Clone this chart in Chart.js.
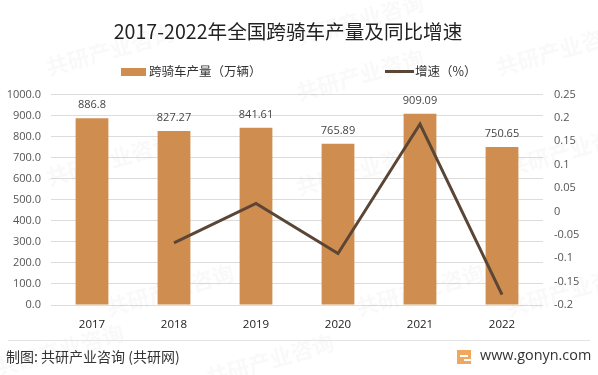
<!DOCTYPE html>
<html><head><meta charset="utf-8">
<style>html,body{margin:0;padding:0;background:#fff}#w{width:598px;height:375px;position:relative}</style>
<script src="https://cdn.jsdelivr.net/npm/chart.js@4"></script></head>
<body><div id="w"><canvas id="c" width="598" height="375"></canvas></div>
<script>
const categories=['2017','2018','2019','2020','2021','2022'];
const outputValues=[886.8,827.27,841.61,765.89,909.09,750.65];
const growthValues=[null,-0.0672,0.0173,-0.09,0.187,-0.178];
const titleText='2017-2022年全国跨骑车产量及同比增速';
const barName='跨骑车产量（万辆）';
const lineName='增速（%）';
const sourceText='制图: 共研产业咨询 (共研网)';
const siteText='www.gonyn.com';
const watermarkText='共研产业咨询';
const CJK='"Noto Sans CJK SC","Noto Sans",sans-serif';
const TICK='"Open Sans","Noto Sans",sans-serif';
const BAR='#CF8E4F',LINE='#5B4636';
const deco={id:'deco',
 afterLayout(ch){ch.titleBlock.left=-22;},
 beforeDatasetsDraw(ch){const x=ch.ctx;x.save();
  x.fillStyle='rgba(120,120,120,0.045)';x.font='bold 22px '+CJK;x.textAlign='center';x.textBaseline='middle';
  [[110,50],[360,20],[560,50],[360,75],[110,160],[360,170],[570,150],[170,290],[420,290],[60,350],[270,360],[570,290]].forEach(p=>{
    x.save();x.translate(p[0],p[1]);x.rotate(-0.28);x.fillText(watermarkText,0,0);x.restore();});
  x.restore();},
 afterDraw(ch){const x=ch.ctx;x.save();
  x.textBaseline='middle';
  x.fillStyle=BAR;x.fillRect(121,68,25,8);
  x.strokeStyle=LINE;x.lineWidth=3;x.beginPath();x.moveTo(385,71.5);x.lineTo(414,71.5);x.stroke();
  x.fillStyle='#333';x.textAlign='left';x.font='12.5px '+CJK;
  x.fillText(barName,149,71);x.fillText(lineName,415,71);
  const m=ch.getDatasetMeta(1);
  x.fillStyle='#444';x.textAlign='center';x.font='11px '+TICK;
  m.data.forEach((b,i)=>x.fillText(String(outputValues[i]),b.x,b.y-13));
  x.strokeStyle='#e4e4e4';x.lineWidth=1;x.beginPath();x.moveTo(8,340.5);x.lineTo(590,340.5);x.stroke();
  x.fillStyle='#333';x.textAlign='left';x.font='14px '+CJK;x.fillText(sourceText,6,357);
  x.fillStyle='#F0A860';x.fillRect(457,350,14,14);
  x.fillStyle='#fff';x.fillRect(460,355,8,2);x.fillRect(464,359,7,2);
  x.fillStyle='#333';x.font='14.4px "Open Sans",sans-serif';x.fillText(siteText,480,356);
  x.restore();}
};
new Chart(document.getElementById('c'),{
 data:{labels:categories,datasets:[
  {type:'line',label:lineName,data:growthValues,yAxisID:'y2',borderColor:LINE,backgroundColor:LINE,borderWidth:3,pointRadius:0,tension:0,spanGaps:false,order:1},
  {type:'bar',label:barName,data:outputValues,yAxisID:'y',backgroundColor:BAR,barPercentage:0.4,categoryPercentage:1,order:2}
 ]},
 plugins:[deco],
 options:{responsive:false,animation:false,
  layout:{padding:0},
  plugins:{legend:{display:false},tooltip:{enabled:false},
   title:{display:true,text:titleText,color:'#222',font:{family:CJK,size:19.6,weight:'normal'},padding:{top:20,bottom:51}}},
  scales:{
   x:{offset:true,grid:{display:false},border:{display:false},ticks:{color:'#222',font:{family:TICK,size:11.5},padding:5},
      afterFit(a){a.height=70;}},
   y:{position:'left',min:0,max:1000,grid:{color:'#dcdcdc',lineWidth:1,drawTicks:false},border:{display:false},
      ticks:{stepSize:100,color:'#555',font:{family:TICK,size:11},padding:10,callback:v=>Number(v).toFixed(1)},
      afterFit(a){a.width=51;}},
   y2:{position:'right',min:-0.2,max:0.25,grid:{display:false,drawTicks:false},border:{display:false},
      ticks:{stepSize:0.05,color:'#555',font:{family:TICK,size:11},padding:11,callback:v=>String(Math.round(v*100)/100)},
      afterFit(a){a.width=55;}}
  }
 }
});
</script></body></html>
